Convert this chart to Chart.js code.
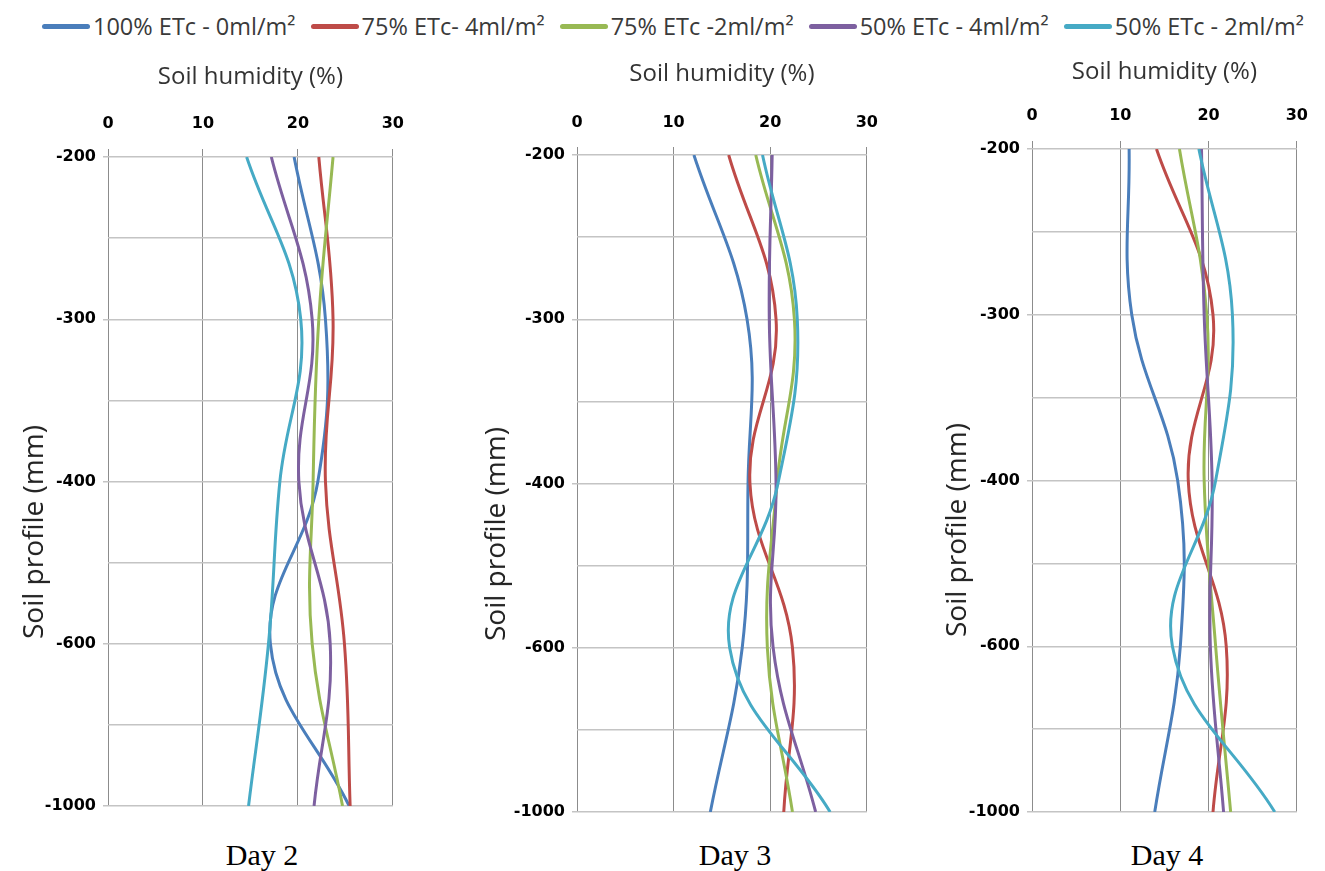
<!DOCTYPE html>
<html>
<head>
<meta charset="utf-8">
<script src="https://cdn.jsdelivr.net/npm/chart.js@4.4.0/dist/chart.umd.min.js"></script>
<style>
body{margin:0;background:#fff;width:1325px;height:871px;position:relative;overflow:hidden;font-family:"Open Sans",sans-serif}
.box{position:absolute}
#legend{position:absolute;left:42px;top:10px;width:1262px;display:flex;justify-content:space-between;font-size:23.5px;color:#3a3a3a;white-space:nowrap}
.item{display:flex;align-items:center}
.ln{display:inline-block;width:48px;height:5px;border-radius:2.5px;margin-right:3px}
.ytitle{position:absolute;font-size:28px;color:#222;white-space:nowrap;transform:translate(-50%,-50%) rotate(-90deg)}
.day{position:absolute;top:838px;font:30px "Liberation Serif",serif;color:#000;transform:translateX(-50%);white-space:nowrap}
</style>
</head>
<body>
<div id="legend"></div>

<div class="box" style="left:0px;top:40px;width:420px;height:786px"><canvas id="day2"></canvas></div>
<div class="box" style="left:460px;top:40px;width:433px;height:792px"><canvas id="day3"></canvas></div>
<div class="box" style="left:920px;top:40px;width:404px;height:792px"><canvas id="day4"></canvas></div>

<div class="ytitle" style="left:32px;top:532px">Soil profile (mm)</div>
<div class="ytitle" style="left:494px;top:534px">Soil profile (mm)</div>
<div class="ytitle" style="left:955px;top:530px">Soil profile (mm)</div>

<div class="day" style="left:262px">Day 2</div>
<div class="day" style="left:735px">Day 3</div>
<div class="day" style="left:1167px">Day 4</div>

<script>
// depth levels (category positions on the vertical axis)
const depths = ['-200', '-300', '-400', '-600', '-1000'];
const seriesNames = ['100% ETc - 0ml/m²', '75% ETc- 4ml/m²', '75% ETc -2ml/m²', '50% ETc - 4ml/m²', '50% ETc - 2ml/m²'];

// soil humidity (%) per series, one value per depth
const day2 = [
  [19.6, 22.9, 22.1, 17.1, 25.4],
  [22.2, 23.7, 22.9, 24.9, 25.5],
  [23.7, 22.2, 21.6, 21.5, 24.7],
  [17.2, 21.5, 20.1, 23.4, 21.7],
  [14.6, 20.3, 18.1, 16.9, 14.8]
];
const day3 = [
  [12.1, 17.6, 17.7, 17.1, 13.8],
  [15.7, 20.6, 17.9, 22.3, 21.4],
  [18.5, 22.5, 20.7, 19.7, 22.3],
  [20.2, 19.9, 20.6, 20.3, 24.7],
  [19.2, 22.8, 20.8, 15.8, 26.2]
];
const day4 = [
  [11.0, 11.3, 16.5, 16.8, 13.9],
  [14.1, 20.5, 17.7, 22.0, 20.5],
  [16.7, 19.8, 19.5, 20.8, 22.5],
  [19.2, 19.5, 20.4, 20.2, 21.7],
  [18.9, 22.7, 20.8, 15.9, 27.5]
];

const colors = ['#4a7ebb', '#be4b48', '#98b954', '#7d60a0', '#46aac5'];

// legend
const legend = document.getElementById('legend');
seriesNames.forEach((name, i) => {
  const it = document.createElement('div');
  it.className = 'item';
  it.innerHTML = '<span class="ln" style="background:' + colors[i] + '"></span><span>' + name + '</span>';
  legend.appendChild(it);
});

const tickFont = {family: 'DejaVu Sans', size: 16, weight: 'bold'};

function makeChart(id, values, g) {
  return new Chart(document.getElementById(id), {
    type: 'scatter',
    data: {
      datasets: values.map((vals, k) => ({
        label: seriesNames[k],
        data: vals.map((v, i) => ({x: v, y: i})),
        showLine: true,
        borderColor: colors[k],
        backgroundColor: colors[k],
        borderWidth: 3,
        pointRadius: 0,
        tension: 0.4,
        fill: false,
        order: 4 - k
      }))
    },
    options: {
      animation: false,
      responsive: true,
      maintainAspectRatio: false,
      layout: {padding: {left: 0, top: 0, right: 20, bottom: 20}},
      plugins: {legend: {display: false}, tooltip: {enabled: false}},
      scales: {
        x: {
          type: 'linear',
          position: 'top',
          min: 0,
          max: 30,
          afterFit: s => { s.height = g.xH; },
          ticks: {stepSize: 10, font: tickFont, color: '#000', padding: g.xLabelPad},
          grid: {color: '#8c8c8c', lineWidth: 1, tickLength: 8, tickColor: '#8c8c8c'},
          border: {display: false},
          title: {display: true, text: 'Soil humidity (%)', color: '#333',
                  font: {family: 'Open Sans', size: 24}, padding: {top: g.xTitlePad, bottom: 0}}
        },
        y: {
          type: 'linear',
          min: 0,
          max: 4,
          reverse: true,
          afterFit: s => { s.width = g.yW; },
          ticks: {
            stepSize: 0.5,
            autoSkip: false,
            font: tickFont,
            color: '#000',
            padding: 7,
            callback: v => Number.isInteger(v) ? depths[v] : ''
          },
          grid: {
            color: '#c4c4c4',
            lineWidth: 1.5,
            tickLength: 5,
            tickColor: c => Number.isInteger(c.tick.value) ? '#c4c4c4' : 'rgba(0,0,0,0)'
          },
          border: {display: false}
        }
      }
    }
  });
}

makeChart('day2', day2, {yW: 108, xH: 117, xTitlePad: 23, xLabelPad: 16});
makeChart('day3', day3, {yW: 117, xH: 115, xTitlePad: 20, xLabelPad: 15});
makeChart('day4', day4, {yW: 112, xH: 109, xTitlePad: 18, xLabelPad: 16});
</script>
</body>
</html>
